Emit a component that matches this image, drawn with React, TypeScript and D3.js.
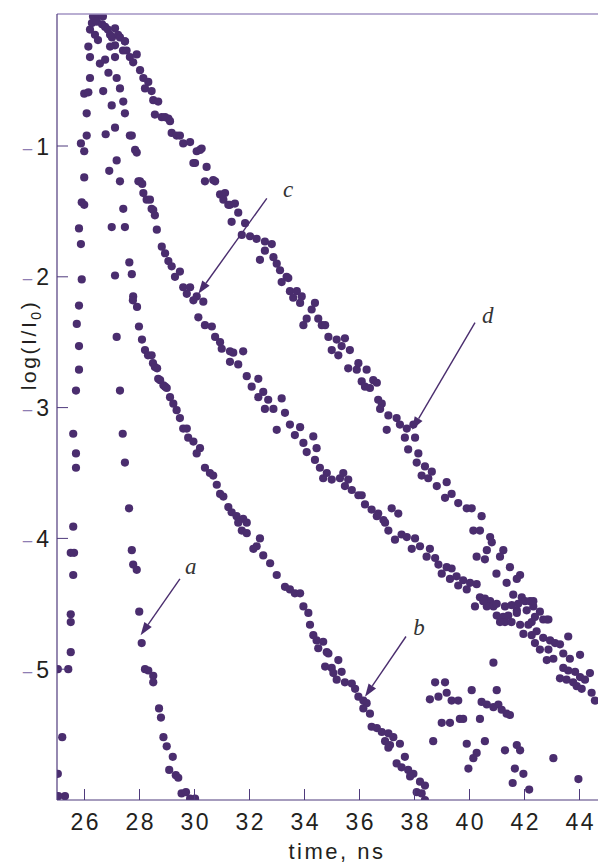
import React from 'react';
import * as d3 from 'd3';

type Pt = [number, number];

// time (ns), log(I/I0)
const riseEdge: Pt[] = [
  [26.2, -0.11], [26.14, -0.24], [26.2, -0.32], [26.2, -0.48], [25.99, -0.6], [26.14, -0.59],
  [26.08, -0.75], [26.08, -0.92], [25.87, -0.98], [25.99, -1.04], [25.99, -1.24], [25.9, -1.43],
  [25.99, -1.45], [25.8, -1.63], [25.87, -1.75], [25.9, -2.02], [25.8, -2.22], [25.72, -2.36],
  [25.8, -2.53], [25.8, -2.71], [25.69, -2.87], [25.59, -3.2], [25.69, -3.35], [25.69, -3.46],
  [25.59, -3.91], [25.5, -4.11], [25.62, -4.11], [25.59, -4.28], [25.5, -4.58], [25.5, -4.64],
  [25.5, -4.87], [25.41, -5.0], [25.03, -5.0], [25.19, -5.52], [25.03, -5.8], [25.29, -5.97],
  [25.05, -5.97],
];

const peak: Pt[] = [
  [26.31, -0.01], [26.49, 0.0], [26.67, -0.01], [26.27, -0.06], [26.45, -0.05], [26.64, -0.07],
  [26.75, -0.09], [26.85, -0.11], [27.11, -0.1], [26.38, -0.15], [26.49, -0.19], [26.93, -0.15],
  [27.0, -0.17], [27.22, -0.15], [27.29, -0.17], [27.47, -0.2], [27.11, -0.23], [26.93, -0.24],
  [27.4, -0.27], [27.11, -0.32],
];

const curveA: Pt[] = [
  [26.56, -0.37], [26.75, -0.34], [26.87, -0.44], [27.17, -0.48], [26.68, -0.58], [27.29, -0.56],
  [27.41, -0.66], [26.99, -0.69], [27.47, -0.75], [27.11, -0.86], [26.77, -0.91], [27.17, -1.11],
  [26.9, -1.19], [27.29, -1.27], [27.41, -1.48], [26.99, -1.62], [27.47, -1.62], [27.63, -1.89],
  [27.11, -1.99], [27.72, -1.98], [27.77, -2.15], [27.17, -2.46], [27.29, -2.87], [27.39, -3.2],
  [27.47, -3.42], [27.62, -3.77], [27.72, -4.09], [27.77, -4.2], [27.9, -4.24], [27.99, -4.56],
  [28.08, -4.8], [28.2, -5.0], [28.32, -5.01], [28.5, -5.05], [28.5, -5.1], [28.71, -5.3],
  [28.78, -5.37], [28.87, -5.52], [28.99, -5.59], [29.21, -5.67], [29.08, -5.77], [29.32, -5.81],
  [29.41, -5.83], [29.53, -5.95], [29.69, -5.94], [29.84, -5.99], [30.02, -5.99],
];

const curveB: Pt[] = [
  [27.76, -2.18], [27.91, -2.23], [27.98, -2.38], [28.09, -2.48], [28.2, -2.56], [28.31, -2.6],
  [28.44, -2.6], [28.49, -2.66], [28.56, -2.69], [28.64, -2.7], [28.68, -2.78], [28.75, -2.79],
  [28.87, -2.83], [28.93, -2.84], [28.99, -2.85], [29.11, -2.92], [29.23, -2.97], [29.35, -3.02],
  [29.47, -3.08], [29.59, -3.16], [29.72, -3.16], [29.77, -3.23], [29.96, -3.26], [30.2, -3.31],
  [30.08, -3.35], [30.38, -3.46], [30.56, -3.5], [30.68, -3.52], [30.81, -3.59], [30.93, -3.66],
  [31.05, -3.68], [31.23, -3.76], [31.35, -3.8], [31.53, -3.83], [31.77, -3.85], [31.59, -3.88],
  [31.9, -3.88], [31.72, -3.94], [31.9, -3.96], [32.38, -4.0], [32.26, -4.06], [32.14, -4.08],
  [32.5, -4.13], [32.75, -4.19], [32.99, -4.28], [33.29, -4.37], [33.47, -4.39], [33.65, -4.42],
  [33.84, -4.42], [33.96, -4.52], [34.14, -4.57], [34.2, -4.66], [34.32, -4.74], [34.44, -4.78],
  [34.68, -4.79], [34.5, -4.84], [34.81, -4.87], [34.87, -4.88], [35.23, -4.93], [34.75, -4.98],
  [34.99, -4.99], [35.05, -5.03], [35.35, -5.02], [35.17, -5.08], [35.47, -5.1], [35.72, -5.11],
  [35.84, -5.15], [35.96, -5.21], [36.14, -5.24], [36.26, -5.26], [36.14, -5.3], [36.38, -5.34],
  [36.44, -5.44], [36.63, -5.45], [36.81, -5.48], [37.05, -5.49], [37.23, -5.52], [36.93, -5.55],
  [37.11, -5.58], [37.47, -5.57], [37.05, -5.6], [37.65, -5.67], [37.35, -5.72], [37.53, -5.75],
  [37.77, -5.77], [37.96, -5.8], [37.84, -5.82], [38.2, -5.86], [38.38, -5.89], [38.08, -5.94],
  [38.26, -5.95], [38.38, -6.0],
];

const curveC: Pt[] = [
  [27.65, -0.92], [27.72, -0.92], [27.84, -1.03], [27.9, -1.05], [27.96, -1.27], [28.02, -1.27],
  [28.1, -1.29], [28.14, -1.36], [28.26, -1.41], [28.38, -1.41], [28.44, -1.48], [28.5, -1.49],
  [28.56, -1.53], [28.63, -1.64], [28.81, -1.77], [28.93, -1.82], [29.05, -1.88], [29.17, -1.92],
  [29.29, -2.0], [29.47, -1.96], [29.59, -2.08], [29.84, -2.08], [29.72, -2.13], [30.08, -2.15],
  [29.96, -2.18], [30.32, -2.19], [30.14, -2.31], [30.38, -2.37], [30.63, -2.38], [30.75, -2.46],
  [30.93, -2.5], [30.99, -2.55], [31.29, -2.57], [31.41, -2.58], [31.77, -2.57], [31.29, -2.65],
  [31.59, -2.67], [31.9, -2.76], [32.32, -2.78], [32.08, -2.84], [32.5, -2.88], [32.32, -2.92],
  [32.68, -2.94], [33.17, -2.93], [32.56, -3.01], [32.87, -3.01], [33.29, -3.04], [32.99, -3.17],
  [33.47, -3.13], [33.84, -3.15], [33.65, -3.21], [33.96, -3.27], [34.32, -3.22], [34.08, -3.34],
  [34.44, -3.31], [34.38, -3.4], [34.56, -3.46], [34.68, -3.54], [34.99, -3.55], [35.29, -3.54],
  [35.41, -3.5], [34.81, -3.5], [35.47, -3.6], [35.59, -3.55], [35.72, -3.63], [35.96, -3.67],
  [36.08, -3.67], [36.2, -3.74], [36.44, -3.78], [36.68, -3.81], [36.63, -3.83], [37.17, -3.77],
  [37.41, -3.81], [36.87, -3.86], [36.93, -3.88], [37.05, -3.94], [37.29, -4.01], [37.53, -3.97],
  [37.72, -3.99], [38.02, -4.0], [37.9, -4.08], [38.2, -4.06], [38.56, -4.08], [38.44, -4.14],
  [38.75, -4.15], [38.87, -4.2], [39.17, -4.22], [39.35, -4.23], [38.99, -4.27], [39.29, -4.31],
  [39.53, -4.29], [39.77, -4.32], [40.02, -4.34], [40.26, -4.35], [39.59, -4.36], [39.9, -4.39],
  [40.38, -4.45], [40.56, -4.46], [40.75, -4.48], [40.2, -4.52], [40.63, -4.52], [40.87, -4.52],
  [40.99, -4.59], [41.23, -4.6], [41.29, -4.64], [41.11, -4.64], [41.53, -4.64], [41.84, -4.66],
  [42.14, -4.66], [41.96, -4.73], [42.26, -4.74], [42.44, -4.71], [42.68, -4.76], [42.93, -4.78],
  [43.11, -4.8], [42.38, -4.8], [42.56, -4.85], [42.87, -4.85], [43.29, -4.81], [43.41, -4.88],
  [42.81, -4.93], [43.05, -4.92], [43.65, -4.92], [44.02, -4.89], [43.41, -4.99], [43.59, -5.01],
  [43.84, -5.02], [44.38, -5.03], [44.02, -5.06], [43.29, -5.07], [43.53, -5.08], [43.77, -5.1],
  [44.2, -5.08], [43.9, -5.13], [44.08, -5.15], [44.44, -5.18], [44.56, -5.24], [43.59, -4.75],
];

const curveD: Pt[] = [
  [27.47, -0.2], [27.53, -0.27], [27.65, -0.32], [27.9, -0.3], [27.77, -0.36], [28.02, -0.42],
  [28.14, -0.48], [28.32, -0.51], [28.2, -0.56], [28.44, -0.58], [28.5, -0.65], [28.68, -0.66],
  [28.56, -0.76], [28.81, -0.78], [29.05, -0.79], [28.93, -0.78], [29.11, -0.81], [29.17, -0.9],
  [29.35, -0.92], [29.47, -0.92], [29.59, -0.98], [29.84, -0.97], [30.08, -1.04], [30.26, -1.02],
  [30.2, -1.03], [30.02, -1.13], [29.96, -1.13], [30.44, -1.16], [30.38, -1.27], [30.68, -1.26],
  [30.75, -1.27], [30.93, -1.37], [31.11, -1.36], [31.05, -1.41], [31.23, -1.45], [31.29, -1.45],
  [31.47, -1.44], [31.59, -1.51], [31.35, -1.58], [31.84, -1.59], [31.72, -1.68], [32.02, -1.69],
  [32.26, -1.71], [32.56, -1.73], [32.81, -1.75], [32.56, -1.8], [32.38, -1.87], [32.87, -1.85],
  [32.99, -1.9], [33.11, -1.95], [33.35, -2.0], [33.17, -2.04], [33.41, -2.01], [33.47, -2.11],
  [33.72, -2.11], [33.9, -2.15], [33.59, -2.16], [33.84, -2.2], [34.38, -2.2], [34.26, -2.25],
  [34.08, -2.32], [33.96, -2.37], [34.5, -2.32], [34.63, -2.37], [34.75, -2.37], [34.87, -2.46],
  [35.17, -2.48], [35.47, -2.47], [34.99, -2.56], [35.23, -2.6], [35.35, -2.53], [35.65, -2.56],
  [35.59, -2.7], [35.9, -2.71], [35.96, -2.66], [36.26, -2.71], [36.08, -2.8], [36.2, -2.84],
  [36.38, -2.85], [36.5, -2.79], [36.63, -2.81], [36.68, -2.94], [36.81, -2.97], [36.75, -3.01],
  [37.05, -3.06], [37.35, -3.08], [36.99, -3.17], [37.47, -3.13], [37.72, -3.16], [37.96, -3.13],
  [37.65, -3.23], [38.02, -3.23], [37.77, -3.32], [38.14, -3.35], [38.08, -3.42], [38.38, -3.45],
  [38.63, -3.49], [38.26, -3.52], [38.5, -3.54], [38.81, -3.6], [39.17, -3.57], [39.11, -3.69],
  [39.35, -3.66], [39.59, -3.73], [39.9, -3.77], [40.08, -3.77], [40.44, -3.83], [40.14, -3.94],
  [40.38, -3.94], [40.75, -3.99], [40.81, -4.03], [40.63, -4.09], [41.23, -4.09], [40.26, -4.14],
  [40.56, -4.16], [41.11, -4.14], [41.47, -4.22], [40.98, -4.27], [41.35, -4.34], [41.84, -4.28],
  [41.59, -4.43], [41.9, -4.45], [41.72, -4.31], [42.02, -4.48], [42.2, -4.48], [41.72, -4.55],
  [42.08, -4.55], [42.32, -4.52], [42.56, -4.56], [42.38, -4.6], [42.26, -4.64], [42.68, -4.62],
  [42.87, -4.62], [40.5, -4.48], [40.99, -4.5], [41.29, -4.52], [41.53, -4.51], [41.77, -4.5],
  [42.32, -4.48], [41.41, -4.59], [41.72, -4.57], [42.81, -4.62],
];

const scatterNoise: Pt[] = [
  [40.87, -4.95], [38.75, -5.1], [39.11, -5.1], [40.08, -5.16], [40.99, -5.16], [38.56, -5.23],
  [38.87, -5.21], [39.17, -5.18], [39.35, -5.24], [39.59, -5.24], [40.44, -5.25], [40.63, -5.27],
  [40.87, -5.29], [41.05, -5.27], [41.17, -5.31], [41.35, -5.34], [41.47, -5.35], [39.65, -5.38],
  [39.77, -5.38], [40.38, -5.38], [38.99, -5.41], [39.29, -5.41], [38.68, -5.55], [39.9, -5.57],
  [40.56, -5.55], [41.29, -5.62], [41.72, -5.58], [41.84, -5.62], [40.26, -5.64], [40.14, -5.68],
  [43.05, -5.68], [39.96, -5.76], [41.65, -5.76], [41.96, -5.8], [41.57, -5.87], [42.17, -5.92],
  [43.96, -5.84],
];

const xTicks = [26, 28, 30, 32, 34, 36, 38, 40, 42, 44];
const yTicks = [-1, -2, -3, -4, -5];

// curve labels: text anchor, arrow start, arrow tip (data units)
const annotations: { label: string; text: Pt; from: Pt; to: Pt }[] = [
  { label: 'a', text: [29.65, -4.27], from: [29.47, -4.31], to: [28.04, -4.74] },
  { label: 'b', text: [37.95, -4.74], from: [37.69, -4.75], to: [36.2, -5.21] },
  { label: 'c', text: [33.22, -1.39], from: [32.63, -1.4], to: [30.14, -2.13] },
  { label: 'd', text: [40.45, -2.35], from: [40.2, -2.35], to: [37.91, -3.17] },
];

const dotColor = '#4a2d6e';
const axisColor = '#4f3a7c';
const textColor = '#231f20';
const sans = '"Liberation Sans", Arial, Helvetica, sans-serif';

export default function App() {
  const width = 598;
  const height = 865;
  const x = d3.scaleLinear().domain([25, 45]).range([57, 607]);
  const y = d3.scaleLinear().domain([-6, 0]).range([800, 15.2]);

  const left = x(25);
  const bottom = y(-6);
  const top = 14;

  const allPoints = [...riseEdge, ...peak, ...curveA, ...curveB, ...curveC, ...curveD, ...scatterNoise];

  const arrow = (from: Pt, to: Pt) => {
    const x1 = x(from[0]), y1 = y(from[1]);
    const x2 = x(to[0]), y2 = y(to[1]);
    const len = Math.hypot(x2 - x1, y2 - y1);
    const ux = (x2 - x1) / len, uy = (y2 - y1) / len;
    const head = 13, half = 4.5;
    const bx = x2 - ux * head, by = y2 - uy * head;
    const pts = [
      [x2, y2],
      [bx - uy * half, by + ux * half],
      [bx + uy * half, by - ux * half],
    ].map(p => p.join(',')).join(' ');
    return { x1, y1, bx, by, pts };
  };

  return (
    <svg width={width} height={height} style={{ position: 'absolute', left: 0, top: 0, background: '#fff' }}>
      <defs>
        <clipPath id="plotArea">
          <rect x={left} y={top} width={width - left} height={bottom - top} />
        </clipPath>
      </defs>

      <g clipPath="url(#plotArea)">
        {allPoints.map((d, i) => (
          <circle key={i} cx={x(d[0])} cy={y(d[1])} r={4.1} fill={dotColor} />
        ))}
      </g>

      {/* frame */}
      <line x1={left} x2={width} y1={top} y2={top} stroke="#a293c3" strokeWidth={1.5} />
      <line x1={left} x2={left} y1={top} y2={bottom} stroke={axisColor} strokeWidth={1.2} />
      <line x1={left} x2={width} y1={bottom} y2={bottom} stroke={axisColor} strokeWidth={1.2} />

      {xTicks.map(t => (
        <g key={t}>
          <line x1={x(t)} x2={x(t)} y1={bottom} y2={bottom - 11} stroke={axisColor} strokeWidth={1} />
          <text x={x(t) + 1.2} y={830} textAnchor="middle" fontFamily={sans} fontSize={23}
            letterSpacing={2.5} fill={textColor}>{t}</text>
        </g>
      ))}

      {yTicks.map(v => (
        <g key={v}>
          <line x1={left} x2={left + 11} y1={y(v)} y2={y(v)} stroke={axisColor} strokeWidth={1} />
          <text x={49} y={y(v) + 8.5} textAnchor="end" fontFamily={sans} fontSize={23} fill={textColor}>
            <tspan fill="#8e7db3" fontSize={17} dy={-1}>–</tspan>
            <tspan dx={4} dy={1}>{Math.abs(v)}</tspan>
          </text>
        </g>
      ))}

      <text x={337} y={859} textAnchor="middle" fontFamily={sans} fontSize={22}
        letterSpacing={2.5} fill={textColor}>time, ns</text>

      <text transform="translate(36,345) rotate(-90)" textAnchor="middle" fontFamily={sans}
        fontSize={21} letterSpacing={2.6} fill={textColor}>
        log(I/I<tspan fontSize={14} dy={5}>0</tspan><tspan dy={-5}>)</tspan>
      </text>

      {annotations.map(a => {
        const ar = arrow(a.from, a.to);
        return (
          <g key={a.label}>
            <line x1={ar.x1} y1={ar.y1} x2={ar.bx} y2={ar.by} stroke={dotColor} strokeWidth={1.4} />
            <polygon points={ar.pts} fill={dotColor} />
            <text x={x(a.text[0])} y={y(a.text[1])} fontFamily='"Liberation Serif", "Times New Roman", serif'
              fontStyle="italic" fontSize={23} fill="#333">{a.label}</text>
          </g>
        );
      })}
    </svg>
  );
}
